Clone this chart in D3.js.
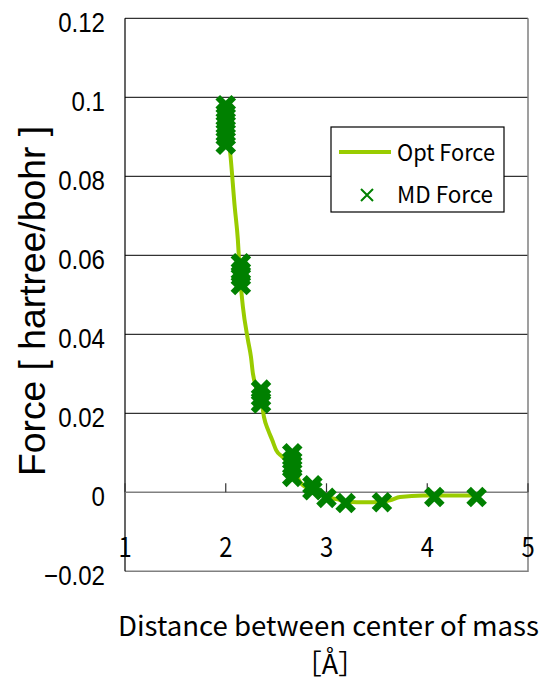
<!DOCTYPE html>
<html><head><meta charset="utf-8">
<script src="https://cdn.jsdelivr.net/npm/d3@7"></script>
<style>body{margin:0;background:#fff}svg{display:block}</style>
</head><body>
<script>
// ---- data ----
const xTicks = [1, 2, 3, 4, 5];
const yTicks = [-0.02, 0, 0.02, 0.04, 0.06, 0.08, 0.1, 0.12];
const yTickLabels = ["\u22120.02", "0", "0.02", "0.04", "0.06", "0.08", "0.1", "0.12"];
const optX = [2.0, 2.04, 2.09, 2.12, 2.14, 2.17, 2.22, 2.25, 2.27, 2.30, 2.35, 2.38, 2.42, 2.46, 2.50, 2.56, 2.66, 2.74, 2.86, 3.0, 3.11, 3.19, 3.30, 3.46, 3.55, 3.63, 3.73, 3.96, 4.07, 4.49];
const optY = [0.094, 0.087, 0.072, 0.064, 0.0555, 0.047, 0.0386, 0.0343, 0.030, 0.0267, 0.024, 0.019, 0.0158, 0.0133, 0.0107, 0.009, 0.0065, 0.0025, 0.0005, -0.0012, -0.0018, -0.0024, -0.0025, -0.0025, -0.0024, -0.0020, -0.0012, -0.0008, -0.0008, -0.0008];
const mdX = [2.0, 2.0, 2.0, 2.0, 2.0, 2.0, 2.15, 2.15, 2.15, 2.15, 2.35, 2.35, 2.35, 2.66, 2.66, 2.66, 2.66, 2.86, 2.86, 3.0, 3.19, 3.55, 4.07, 4.49];
const mdY = [0.098, 0.096, 0.094, 0.092, 0.090, 0.088, 0.058, 0.056, 0.0545, 0.0525, 0.026, 0.024, 0.0225, 0.0099, 0.008, 0.006, 0.0039, 0.0018, 0.0005, -0.0014, -0.0027, -0.0025, -0.0012, -0.0012];
const seriesNames = ["Opt Force", "MD Force"];
const xTitle = "Distance between center of mass";
const xUnit = "\uFF3BÅ\uFF3D";
const yTitle = "Force [ hartree/bohr ]";

// ---- layout ----
const W = 550, H = 681;
const L = 125, R = 528, T = 18.3, B = 571.3;
const lineColor = "#99cc00", mdColor = "#008000";

const svg = d3.select("body").append("svg").attr("width", W).attr("height", H);
const x = d3.scaleLinear().domain([1, 5]).range([L, R]);
const y = d3.scaleLinear().domain([-0.02, 0.12]).range([B, T]);

// gridlines
svg.append("g").selectAll("line").data(yTicks.filter(v => v > 0)).join("line")
  .attr("x1", L).attr("x2", R).attr("y1", d => y(d)).attr("y2", d => y(d))
  .attr("stroke", "#000").attr("stroke-width", 1);

// plot border (right, bottom)
svg.append("path").attr("d", `M${L},${B}H${R}V${T}`).attr("fill", "none")
  .attr("stroke", "#808080").attr("stroke-width", 1.5);
// left axis
svg.append("line").attr("x1", L).attr("x2", L).attr("y1", T).attr("y2", B)
  .attr("stroke", "#000").attr("stroke-width", 1.2);

// x axis at y=0
svg.append("line").attr("x1", L).attr("x2", R).attr("y1", y(0)).attr("y2", y(0))
  .attr("stroke", "#808080").attr("stroke-width", 1.6);
svg.append("g").selectAll("line").data(xTicks).join("line")
  .attr("x1", d => x(d)).attr("x2", d => x(d)).attr("y1", y(0)).attr("y2", y(0) - 9)
  .attr("stroke", "#333").attr("stroke-width", 1.2);

// y tick labels
svg.append("g").selectAll("text").data(yTicks).join("text")
  .attr("transform", d => `translate(105,${y(d) + 14}) scale(0.86,1)`)
  .attr("text-anchor", "end")
  .style("font-family", "'Liberation Sans', Arial, sans-serif").style("font-size", "28px")
  .text((d, i) => yTickLabels[i]);

// x tick labels
svg.append("g").selectAll("text").data(xTicks).join("text")
  .attr("transform", d => `translate(${x(d)},557) scale(0.85,1)`)
  .attr("text-anchor", "middle")
  .style("font-family", "'Noto Sans CJK JP', sans-serif").style("font-size", "28px")
  .text(d => d);

// opt force line
const line = d3.line().x((d, i) => x(optX[i])).y((d, i) => y(optY[i])).curve(d3.curveMonotoneX);
svg.append("path").datum(optX).attr("d", line).attr("fill", "none")
  .attr("stroke", lineColor).attr("stroke-width", 4).attr("stroke-linejoin", "round");

// MD markers
const xm = 8;
svg.append("g").selectAll("path").data(mdX).join("path")
  .attr("d", (d, i) => {
    const cx = x(d), cy = y(mdY[i]);
    return `M${cx - xm},${cy - xm}L${cx + xm},${cy + xm}M${cx + xm},${cy - xm}L${cx - xm},${cy + xm}`;
  })
  .attr("stroke", mdColor).attr("stroke-width", 6.5).attr("fill", "none");

// legend
const lg = svg.append("g");
lg.append("rect").attr("x", 331).attr("y", 127).attr("width", 173).attr("height", 85)
  .attr("fill", "#fff").attr("stroke", "#000").attr("stroke-width", 1.2);
lg.append("line").attr("x1", 339).attr("x2", 391).attr("y1", 152).attr("y2", 152)
  .attr("stroke", lineColor).attr("stroke-width", 4);
lg.append("path").attr("d", "M361,189L373,201M373,189L361,201").attr("stroke", mdColor).attr("stroke-width", 2).attr("fill", "none");
lg.selectAll("text").data(seriesNames).join("text")
  .attr("x", 397).attr("y", (d, i) => i === 0 ? 161 : 203)
  .attr("textLength", (d, i) => i === 0 ? 98 : 96).attr("lengthAdjust", "spacingAndGlyphs")
  .style("font-family", "'Noto Sans CJK JP', sans-serif").style("font-size", "23px")
  .text(d => d);

// axis titles
svg.append("text").attr("x", 118).attr("y", 636)
  .attr("textLength", 421).attr("lengthAdjust", "spacingAndGlyphs")
  .style("font-family", "'Noto Sans CJK JP', sans-serif").style("font-size", "27px")
  .text(xTitle);
svg.append("text").attr("x", 330).attr("y", 674).attr("text-anchor", "middle")
  .style("font-family", "'Noto Sans CJK JP', sans-serif").style("font-size", "27px")
  .text(xUnit);
svg.append("text").attr("transform", "translate(45,301) rotate(-90)")
  .attr("text-anchor", "middle").attr("textLength", 350).attr("lengthAdjust", "spacingAndGlyphs")
  .style("font-family", "'Liberation Sans', Arial, sans-serif").style("font-size", "36px")
  .text(yTitle);
</script>
</body></html>
